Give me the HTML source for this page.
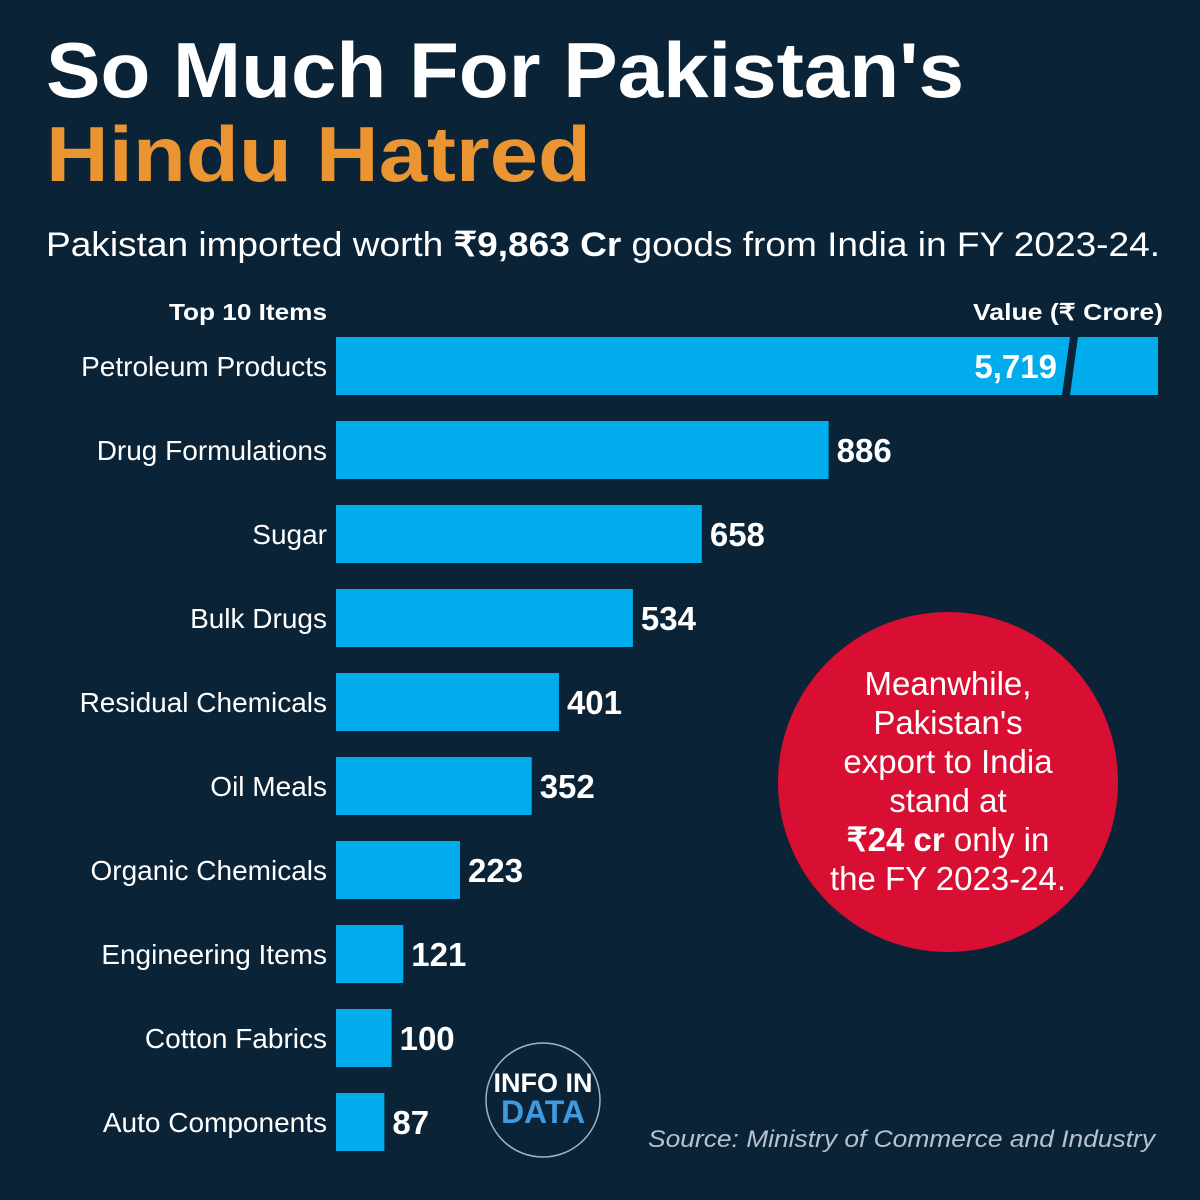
<!DOCTYPE html>
<html><head><meta charset="utf-8"><style>
html,body{margin:0;padding:0;background:#0b2337;}
svg{display:block;font-family:"Liberation Sans",sans-serif;}
</style></head><body>
<svg id="chart" width="1200" height="1200" viewBox="0 0 1200 1200" xmlns="http://www.w3.org/2000/svg">
<rect width="1200" height="1200" fill="#0b2337"/>
<text x="46" y="97" font-size="78" font-weight="bold" fill="#ffffff" textLength="918" lengthAdjust="spacingAndGlyphs">So Much For Pakistan's</text>
<text x="46" y="181" font-size="78" font-weight="bold" fill="#eb9432" textLength="545" lengthAdjust="spacingAndGlyphs">Hindu Hatred</text>
<text x="46" y="256" font-size="34" fill="#ffffff" textLength="1114" lengthAdjust="spacingAndGlyphs">Pakistan imported worth <tspan font-weight="bold">₹9,863 Cr</tspan> goods from India in FY 2023-24.</text>
<text x="327" y="320" font-size="23" font-weight="bold" fill="#ffffff" text-anchor="end" textLength="158" lengthAdjust="spacingAndGlyphs">Top 10 Items</text>
<text x="1163" y="320" font-size="23" font-weight="bold" fill="#ffffff" text-anchor="end" textLength="190" lengthAdjust="spacingAndGlyphs">Value (₹ Crore)</text>
<g id="bars"></g>
<circle cx="948" cy="782" r="170" fill="#d80f32"/>
<g font-size="33" fill="#ffffff" text-anchor="middle">
<text x="948" y="695">Meanwhile,</text>
<text x="948" y="734">Pakistan's</text>
<text x="948" y="773">export to India</text>
<text x="948" y="812">stand at</text>
<text x="948" y="851"><tspan font-weight="bold">₹24 cr</tspan> only in</text>
<text x="948" y="890">the FY 2023-24.</text>
</g>
<g>
<circle cx="543" cy="1100" r="57" fill="none" stroke="#9fb3c4" stroke-width="1.5"/>
<text x="543" y="1092" font-size="27" font-weight="bold" fill="#ffffff" text-anchor="middle">INFO IN</text>
<text x="543" y="1123" font-size="32" font-weight="bold" fill="#3f9ae0" text-anchor="middle">DATA</text>
</g>
<text x="1155" y="1147" font-size="24" font-style="italic" fill="#b8c2cc" text-anchor="end" textLength="507" lengthAdjust="spacingAndGlyphs">Source: Ministry of Commerce and Industry</text>
</svg>
<script>
const categories = ["Petroleum Products","Drug Formulations","Sugar","Bulk Drugs","Residual Chemicals","Oil Meals","Organic Chemicals","Engineering Items","Cotton Fabrics","Auto Components"];
const values = [5719,886,658,534,401,352,223,121,100,87];
const valueLabels = ["5,719","886","658","534","401","352","223","121","100","87"];
const NS="http://www.w3.org/2000/svg";
const x0=336, scale=0.556, xMax=1158, barTop0=337, step=84, barH=58;
const x = v => x0 + Math.min(v*scale, xMax-x0);
const y = i => barTop0 + i*step;
const g=document.getElementById('bars');
function mk(tag,attrs){const e=document.createElementNS(NS,tag);for(const k in attrs)e.setAttribute(k,attrs[k]);return e;}
categories.forEach((c,i)=>{
  const w=x(values[i])-x0;
  const r=mk('rect',{x:x0,y:y(i),width:w,height:barH,fill:'#00acec'});
  
  
  g.appendChild(r);
  const lbl=mk('text',{x:327,y:y(i)+barH/2+10,'font-size':28,fill:'#ffffff','text-anchor':'end'});
  lbl.textContent=c;
  
  
  g.appendChild(lbl);
  const capped = values[i]*scale > xMax-x0;
  if(capped){
    const br=mk('polygon',{points:`${x0+w-96},${y(i)+barH} ${x0+w-88},${y(i)+barH} ${x0+w-80},${y(i)} ${x0+w-88},${y(i)}`,fill:'#0b2337'});
    
    
    g.appendChild(br);
  }
  const vl=mk('text',{x:capped? x0+w-101 : x0+w+8,y:y(i)+barH/2+12,'font-size':33,'font-weight':'bold',fill:'#ffffff','text-anchor':capped?'end':'start'});
  vl.textContent=valueLabels[i];
  
  
  g.appendChild(vl);
});
</script>
</body></html>
